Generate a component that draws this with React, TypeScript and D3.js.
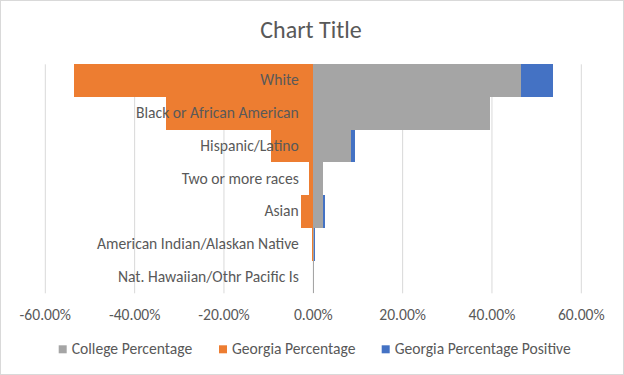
import * as d3 from 'd3';
import { useEffect, useRef } from 'react';

const categories = [
  'White',
  'Black or African American',
  'Hispanic/Latino',
  'Two or more races',
  'Asian',
  'American Indian/Alaskan Native',
  'Nat. Hawaiian/Othr Pacific Is',
];
const collegePct = [0.466, 0.395, 0.084, 0.022, 0.022, 0.001, 0.0005];
const georgiaPct = [-0.536, -0.33, -0.094, -0.01, -0.027, -0.003, -0.001];
const georgiaPositive = georgiaPct.map(v => -v);
const ticks = [-0.6, -0.4, -0.2, 0, 0.2, 0.4, 0.6];

const seriesNames = ['College Percentage', 'Georgia Percentage', 'Georgia Percentage Positive'];
const colors = ['#A5A5A5', '#ED7D31', '#4472C4'];

const W = 624, H = 375;
const FONT = 'Carlito, Lato, "Open Sans", sans-serif';
const TXT = '#595959';
const FS = 15.6;

export default function App() {
  const ref = useRef<SVGSVGElement>(null);

  useEffect(() => {
    const svg = d3.select(ref.current);
    svg.selectAll('*').remove();

    const margin = { top: 64.3, bottom: 293.3, left: 45.3, right: 581.3 };
    const x = d3.scaleLinear().domain([-0.6, 0.6]).range([margin.left, margin.right]);
    const y = d3.scaleBand().domain(categories).range([margin.top, margin.bottom]).padding(0);

    svg.append('rect').attr('x', 0.5).attr('y', 0.5).attr('width', W - 1).attr('height', H - 1)
      .attr('fill', '#fff').attr('stroke', '#D9D9D9');

    svg.append('text').attr('x', 311).attr('y', 37.5).attr('text-anchor', 'middle')
      .attr('font-family', FONT).attr('font-size', 24).attr('fill', TXT).text('Chart Title');

    // gridlines
    svg.append('g').selectAll('line').data(ticks).enter().append('line')
      .attr('x1', d => x(d)).attr('x2', d => x(d))
      .attr('y1', margin.top).attr('y2', margin.bottom)
      .attr('stroke', '#D9D9D9').attr('stroke-width', 1);

    const rows = categories.map((c, i) => ({ c, college: collegePct[i], ga: georgiaPct[i], pos: georgiaPositive[i] }));
    const g = svg.append('g').attr('shape-rendering', 'crispEdges');
    // blue sits behind the gray
    g.selectAll('.pos').data(rows).enter().append('rect')
      .attr('x', x(0)).attr('y', d => y(d.c)!)
      .attr('width', d => x(d.pos) - x(0)).attr('height', y.bandwidth())
      .attr('fill', colors[2]);
    g.selectAll('.col').data(rows).enter().append('rect')
      .attr('x', x(0)).attr('y', d => y(d.c)!)
      .attr('width', d => x(d.college) - x(0)).attr('height', y.bandwidth())
      .attr('fill', colors[0]);
    g.selectAll('.ga').data(rows).enter().append('rect')
      .attr('x', d => x(d.ga)).attr('y', d => y(d.c)!)
      .attr('width', d => x(0) - x(d.ga)).attr('height', y.bandwidth())
      .attr('fill', colors[1]);

    // category labels next to the axis
    svg.append('g').selectAll('text').data(categories).enter().append('text')
      .attr('x', x(0) - 14.5).attr('y', d => y(d)! + y.bandwidth() / 2 + 4.8)
      .attr('text-anchor', 'end').attr('font-family', FONT).attr('font-size', FS)
      .attr('fill', TXT).text(d => d);

    const fmt = d3.format('.2%');
    svg.append('g').selectAll('text').data(ticks).enter().append('text')
      .attr('x', d => x(d)).attr('y', 319.5).attr('text-anchor', 'middle')
      .attr('font-family', FONT).attr('font-size', FS).attr('fill', TXT)
      .text(d => fmt(d).replace('−', '-'));

    // legend
    const legendX = [58.7, 219, 381.7];
    const lg = svg.append('g');
    seriesNames.forEach((name, i) => {
      lg.append('rect').attr('x', legendX[i]).attr('y', 345.3).attr('width', 8).attr('height', 8)
        .attr('fill', colors[i]);
      lg.append('text').attr('x', legendX[i] + 13).attr('y', 353.5)
        .attr('font-family', FONT).attr('font-size', FS).attr('fill', TXT).text(name);
    });
  }, []);

  return (
    <div style={{ position: 'absolute', left: 0, top: 0 }}>
      <svg ref={ref} width={W} height={H} style={{ display: 'block' }}></svg>
    </div>
  );
}
